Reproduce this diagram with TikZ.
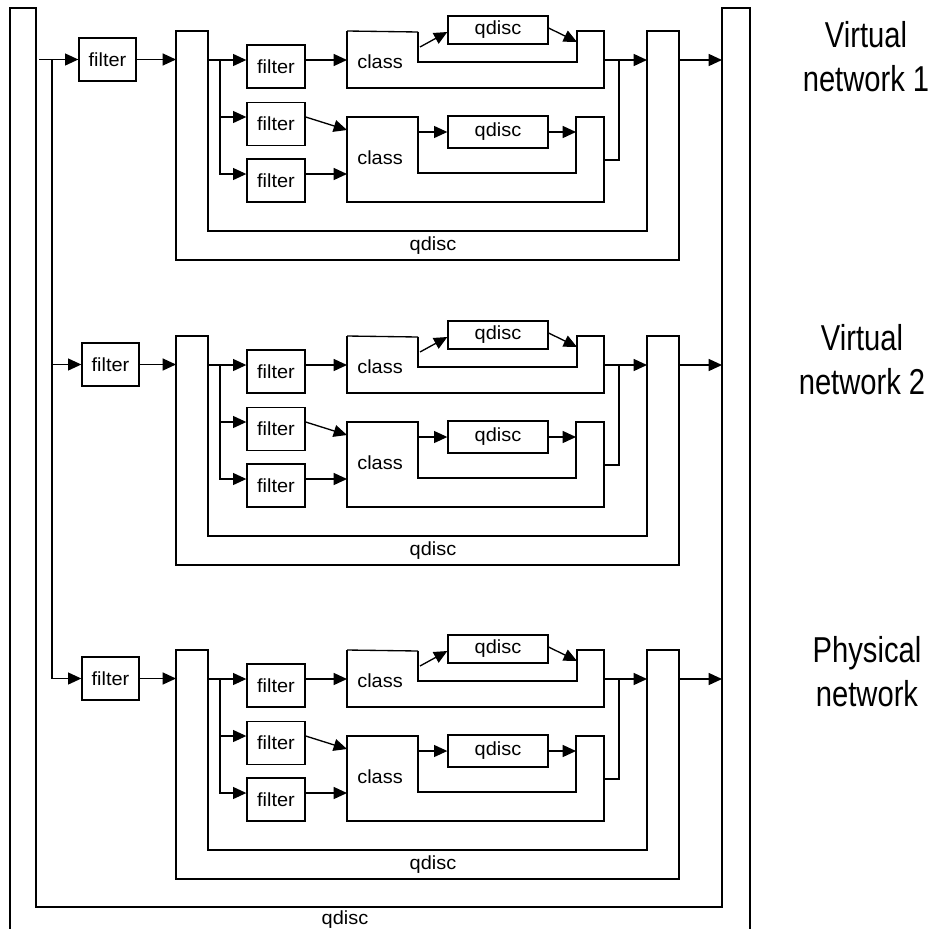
\documentclass[tikz,border=0pt]{standalone}
\usepackage{fontspec}
\setmainfont{Liberation Sans}
\newfontfamily\smallfont[FakeStretch=1.05]{Liberation Sans}
\newfontfamily\bigfont[FakeStretch=0.81]{Liberation Sans}
\usetikzlibrary{arrows.meta}
\begin{document}
\begin{tikzpicture}[x=0.75pt,y=-0.75pt,line width=1pt,
  lbl/.style={inner sep=0pt,font=\smallfont\fontsize{14.25}{17}\selectfont},
  box/.style={draw,rectangle,inner sep=0pt,font=\smallfont\fontsize{14.25}{17}\selectfont},
  fbox/.style={box,minimum width=42.75pt,minimum height=32.25pt},
  fsbox/.style={box,minimum width=43.5pt,minimum height=32.25pt},
  qbox/.style={box,minimum width=75pt},
  netlbl/.style={align=center,inner sep=0pt,font=\bigfont\fontsize{27}{33}\selectfont},
  arr/.style={-{Triangle[length=10pt,width=9pt]}}]
\useasboundingbox (0,0) rectangle (930,928);

% outermost qdisc
\draw (10,930) -- (10,8) -- (36,8) -- (36,907) -- (722,907) -- (722,8) -- (750,8) -- (750,930);
\node[lbl] (OQ) at (345,920) {qdisc};

\foreach \o/\fx/\i in {0/79/1,305/82/2,619/82/3}{
  % first-level filter
  \node[fbox] (F\i) at ({\fx+28.5},{\o+59.5}) {filter};
  \coordinate (Min\i) at (176,{\o+59.5});
  \draw[arr] (F\i.east) -- (Min\i);
  % middle qdisc
  \draw (176,{\o+31}) -- (208,{\o+31}) -- (208,{\o+231}) -- (647,{\o+231}) -- (647,{\o+31})
        -- (679,{\o+31}) -- (679,{\o+260}) -- (176,{\o+260}) -- cycle;
  \node[lbl] (MQ\i) at (433,{\o+246}) {qdisc};
  % second-level filters
  \node[fsbox] (A\i) at (276,{\o+66.5}) {filter};
  \node[fsbox] (B\i) at (276,{\o+124}) {filter};
  \node[fsbox] (C\i) at (276,{\o+180.5}) {filter};
  \coordinate (S\i) at (208,{\o+60});
  \coordinate (V\i) at (220,{\o+60});
  \coordinate (vb\i) at (220,{\o+117});
  \coordinate (vc\i) at (220,{\o+174});
  \draw[arr] (S\i) -- (A\i.west |- S\i);
  \draw[arr] (vb\i) -- (B\i.west |- vb\i);
  \draw[arr] (V\i) -- (vc\i) -- (C\i.west |- vc\i);
  % class 1
  \draw (347,{\o+31}) -- (418,{\o+32});
  \draw (418,{\o+32}) -- (418,{\o+62}) -- (577,{\o+62}) -- (577,{\o+31})
        -- (604,{\o+31}) -- (604,{\o+88}) -- (347,{\o+88}) -- (347,{\o+31});
  \node[lbl] (K\i) at (380,{\o+62}) {class};
  \node[qbox,minimum height=21pt] (Q\i) at (498,{\o+30}) {qdisc};
  \coordinate (c1in\i) at (347,{\o+60});
  \coordinate (c1o\i) at (420,{\o+47});
  \coordinate (c1r\i) at (577,{\o+42});
  \draw[arr] (A\i.east |- c1in\i) -- (c1in\i);
  \draw[arr] (c1o\i) -- ([yshift=-1.5pt]Q\i.west);
  \draw[arr] ([yshift=1.5pt]Q\i.east) -- (c1r\i);
  % class 2
  \draw (347,{\o+117}) -- (418,{\o+117}) -- (418,{\o+173}) -- (576,{\o+173}) -- (576,{\o+117})
        -- (604,{\o+117}) -- (604,{\o+202}) -- (347,{\o+202}) -- cycle;
  \node[lbl] (L\i) at (380,{\o+158}) {class};
  \node[qbox,minimum height=24pt] (R\i) at (498,{\o+132}) {qdisc};
  \coordinate (c2l\i) at (418,{\o+132});
  \coordinate (c2r\i) at (576,{\o+132});
  \coordinate (c2b\i) at (347,{\o+130});
  \coordinate (c2c\i) at (347,{\o+174});
  \draw[arr] (c2l\i) -- (R\i.west);
  \draw[arr] (R\i.east) -- (c2r\i);
  \draw[arr] (B\i.east |- vb\i) -- (c2b\i);
  \draw[arr] (C\i.east |- vc\i) -- (c2c\i);
  % outputs
  \coordinate (c1out\i) at (604,{\o+60});
  \coordinate (Mout\i) at (647,{\o+60});
  \coordinate (J\i) at (619,{\o+60});
  \coordinate (c2out\i) at (604,{\o+160});
  \draw[arr] (c1out\i) -- (Mout\i);
  \draw (J\i) |- (c2out\i);
  \coordinate (Mr\i) at (679,{\o+60});
  \coordinate (Or\i) at (722,{\o+60});
  \draw[arr] (Mr\i) -- (Or\i);
}

% input distribution
\coordinate (In) at (39,59.5);
\coordinate (Vt) at (52,59.5);
\coordinate (Vm) at (52,364.5);
\draw[arr] (In) -- (F1.west);
\draw[arr] (Vt) |- (F3.west);
\draw[arr] (Vm) -- (F2.west);

% network labels
\node[netlbl] (N1) at (866,57) {Virtual\\network 1};
\node[netlbl] (N2) at (862,360) {Virtual\\network 2};
\node[netlbl] (N3) at (867,672) {Physical\\network};
\end{tikzpicture}
\end{document}
